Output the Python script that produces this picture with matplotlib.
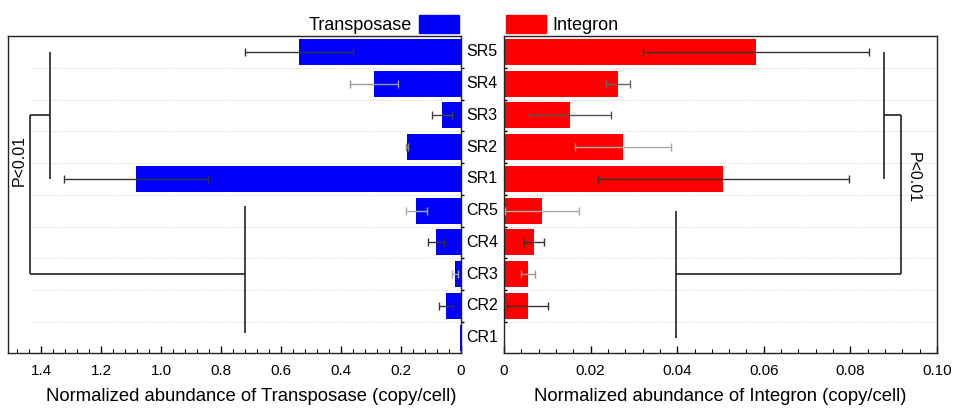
import matplotlib
matplotlib.use("Agg")
import matplotlib.pyplot as plt
import matplotlib.transforms as mtransforms
from matplotlib.patches import Patch
from matplotlib.ticker import MultipleLocator
import numpy as np

plt.rcParams['font.family'] = ['Liberation Sans', 'DejaVu Sans']

# samples, bottom to top
samples = ['CR1', 'CR2', 'CR3', 'CR4', 'CR5', 'SR1', 'SR2', 'SR3', 'SR4', 'SR5']

# normalized abundance (copy/cell)
transposase = [0.002, 0.05, 0.02, 0.083, 0.15, 1.083, 0.181, 0.063, 0.29, 0.54]
transposase_err = [0.0, 0.022, 0.01, 0.027, 0.035, 0.24, 0.003, 0.033, 0.08, 0.18]
integron = [0.0, 0.0055, 0.0056, 0.0070, 0.0088, 0.0506, 0.0275, 0.0152, 0.0263, 0.0582]
integron_err = [0.0, 0.0047, 0.0016, 0.0023, 0.0085, 0.029, 0.011, 0.0094, 0.0028, 0.026]

# error bar shades as they appear in the figure
t_err_col = ['#333333', '#333333', '#aaaaaa', '#333333', '#aaaaaa',
             '#333333', '#888888', '#444444', '#999999', '#333333']
i_err_col = ['#333333', '#333333', '#999999', '#333333', '#aaaaaa',
             '#333333', '#aaaaaa', '#555555', '#666666', '#333333']

y = np.arange(len(samples))
sr = y[5:]
cr = y[:5]

fig = plt.figure(figsize=(9.57, 4.11), dpi=100)
axL = fig.add_axes([8 / 957, 58 / 411, 453 / 957, 317 / 411])
axR = fig.add_axes([504 / 957, 58 / 411, 433 / 957, 317 / 411])

bh = 0.82
axL.barh(y, transposase, height=bh, color='#0000ff', zorder=2)
axR.barh(y, integron, height=bh, color='#ff0000', zorder=2)
for i in y:
    if transposase_err[i] > 0:
        axL.errorbar(transposase[i], i, xerr=transposase_err[i], fmt='none',
                     ecolor=t_err_col[i], elinewidth=1, capsize=3, zorder=3)
    if integron_err[i] > 0:
        axR.errorbar(integron[i], i, xerr=integron_err[i], fmt='none',
                     ecolor=i_err_col[i], elinewidth=1, capsize=3, zorder=3)

axL.set_xlim(1.51, 0)
axR.set_xlim(0, 0.1)
for ax in (axL, axR):
    ax.set_ylim(-0.48, 9.5)
    for k in range(len(samples) - 1):
        ax.axhline(k + 0.5, ls=':', color='#d5d5d5', lw=0.8, zorder=1,
                   xmin=0.05 if ax is axL else 0.0)
    for s in ax.spines.values():
        s.set_linewidth(1.0)
        s.set_color('#222222')
    ax.set_yticks(np.arange(len(samples) - 1) + 0.5)
    ax.set_yticklabels([])
    ax.tick_params(axis='x', which='major', direction='in', length=5, width=1,
                   labelsize=11, pad=8)
    ax.tick_params(axis='x', which='minor', direction='in', length=3, width=0.8)

axL.yaxis.tick_right()
axL.tick_params(axis='y', direction='out', length=2, width=1)
axR.tick_params(axis='y', direction='in', length=2, width=1)

axL.set_xticks(np.arange(0, 1.41, 0.2))
axL.set_xticklabels(['0', '0.2', '0.4', '0.6', '0.8', '1.0', '1.2', '1.4'])
axL.xaxis.set_minor_locator(MultipleLocator(0.04))
axR.set_xticks(np.arange(0, 0.101, 0.02))
axR.set_xticklabels(['0', '0.02', '0.04', '0.06', '0.08', '0.10'])
axR.xaxis.set_minor_locator(MultipleLocator(0.004))

axL.set_xlabel('Normalized abundance of Transposase (copy/cell)', fontsize=13.3,
               labelpad=7, x=0.536, ha='center')
axR.set_xlabel('Normalized abundance of Integron (copy/cell)', fontsize=13.3, labelpad=7)

# sample names in the gap between the two panels
tr = mtransforms.blended_transform_factory(fig.transFigure, axR.transData)
for i, name in enumerate(samples):
    fig.text(482 / 957, i, name, transform=tr, ha='center', va='center', fontsize=11.5)

# group brackets
bk = dict(color='#222222', lw=1.2, solid_capstyle='butt', zorder=4)
axL.plot([1.37, 1.37], [sr.min(), sr.max()], **bk)
axL.plot([1.437, 1.37], [sr.mean(), sr.mean()], **bk)
axL.plot([1.437, 1.437], [sr.mean(), cr.mean()], **bk)
axL.plot([1.437, 0.72], [cr.mean(), cr.mean()], **bk)
axL.plot([0.72, 0.72], [cr.min() + 0.15, cr.max() + 0.15], **bk)
axL.text(1.473, 5.57, 'P<0.01', rotation=90, ha='center', va='center', fontsize=11.5)

axR.plot([0.0878, 0.0878], [sr.min(), sr.max()], **bk)
axR.plot([0.0878, 0.0917], [sr.mean(), sr.mean()], **bk)
axR.plot([0.0917, 0.0917], [sr.mean(), cr.mean()], **bk)
axR.plot([0.0917, 0.0397], [cr.mean(), cr.mean()], **bk)
axR.plot([0.0397, 0.0397], [cr.min(), cr.max()], **bk)
axR.text(0.0945, 5.05, 'P<0.01', rotation=270, ha='center', va='center', fontsize=11.5)

# legends
axL.legend(handles=[Patch(color='#0000ff', label='Transposase')], loc='lower right',
           bbox_to_anchor=(1.0, 1.0), frameon=False, markerfirst=False, fontsize=13,
           handlelength=2.2, handleheight=1.1, handletextpad=0.4, borderaxespad=0.1,
           borderpad=0.0)
axR.legend(handles=[Patch(color='#ff0000', label='Integron')], loc='lower left',
           bbox_to_anchor=(0.0, 1.0), frameon=False, fontsize=13,
           handlelength=2.2, handleheight=1.1, handletextpad=0.4, borderaxespad=0.1,
           borderpad=0.0)

fig.savefig('out.png', dpi=100)
